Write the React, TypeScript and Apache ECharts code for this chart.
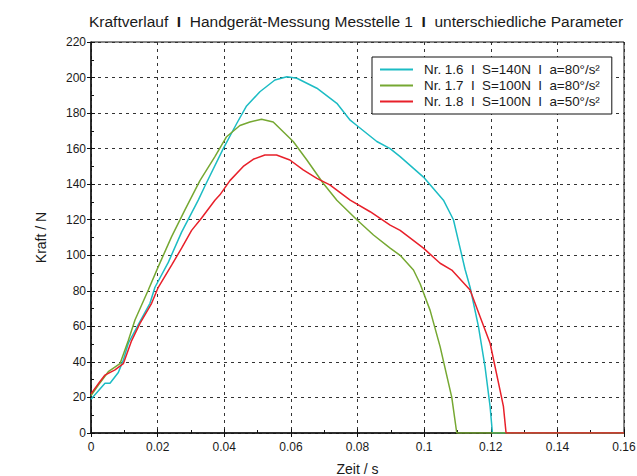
import React, { useEffect, useRef } from "react";
import * as echarts from "echarts";

const seriesNames = [
  "Nr. 1.6  I  S=140N  I  a=80°/s²",
  "Nr. 1.7  I  S=100N  I  a=80°/s²",
  "Nr. 1.8  I  S=100N  I  a=50°/s²",
];
const seriesColors = ["#1cbcc4", "#76a832", "#e8202a"];

const time16 = [0, 0.0042, 0.0057, 0.0082, 0.0097, 0.0112, 0.0142, 0.0177, 0.0192, 0.0232, 0.0272, 0.0322, 0.0342, 0.0397, 0.0437, 0.0467, 0.0507, 0.0552, 0.0588, 0.0618, 0.0678, 0.0738, 0.0778, 0.0798, 0.0858, 0.0898, 0.0928, 0.0998, 0.1058, 0.1088, 0.1108, 0.1123, 0.1138, 0.1163, 0.1183, 0.1198, 0.1205, 0.16];
const force16 = [19, 28, 28, 34, 41, 50.5, 61, 73, 82, 96, 113, 131, 139, 160, 174, 184, 192, 198.6, 200.5, 199.6, 194, 185.5, 176, 173, 164, 160, 155.5, 144, 131, 120, 104, 92, 82, 60, 37, 15, 0, 0];

const time17 = [0, 0.0022, 0.0052, 0.0087, 0.0112, 0.0132, 0.0172, 0.0202, 0.0242, 0.0282, 0.0327, 0.0372, 0.0407, 0.0447, 0.0477, 0.0512, 0.0547, 0.0577, 0.0607, 0.0648, 0.0697, 0.0738, 0.0798, 0.0848, 0.0898, 0.0928, 0.0968, 0.0988, 0.1018, 0.1048, 0.1083, 0.1098, 0.16];
const force17 = [21, 27, 34.5, 39, 52, 63.6, 80.5, 93.6, 110.5, 125.5, 142, 155.5, 166.7, 173, 175, 176.5, 175, 169.5, 164, 153.6, 140.5, 131, 120, 111.4, 104, 100, 91.7, 84, 69, 48.6, 20, 0, 0];

const time18 = [0, 0.0027, 0.0042, 0.0072, 0.0097, 0.0122, 0.0147, 0.0182, 0.0202, 0.0242, 0.0272, 0.0302, 0.0332, 0.0372, 0.0387, 0.0417, 0.0457, 0.0487, 0.0522, 0.0557, 0.0597, 0.0637, 0.0678, 0.0717, 0.0778, 0.0838, 0.0898, 0.0928, 0.0998, 0.1048, 0.1083, 0.1138, 0.1168, 0.1198, 0.1228, 0.1238, 0.1246, 0.16];
const force18 = [22, 29, 32.6, 35.5, 39, 52, 61.7, 73, 82, 94.5, 104, 114, 121, 131, 134, 142, 150, 154, 156.4, 156.4, 153.6, 148, 143.3, 139.6, 131, 124.5, 117, 114, 104, 95.5, 91.7, 80.5, 65.4, 50.5, 24, 15, 0, 0];

const xTicks = [0, 0.02, 0.04, 0.06, 0.08, 0.1, 0.12, 0.14, 0.16];
const yTicks = [0, 20, 40, 60, 80, 100, 120, 140, 160, 180, 200, 220];

const titleText = "Kraftverlauf  {b|I}  Handgerät-Messung Messtelle 1  {b|I}  unterschiedliche Parameter";

const zip = (t: number[], f: number[]) => t.map((v, i) => [v, f[i]]);

export default function App() {
  const ref = useRef<HTMLDivElement>(null);
  useEffect(() => {
    if (!ref.current) return;
    const chart = echarts.init(ref.current, null, { renderer: "svg" });
    const font = "'Liberation Sans', Arial, Helvetica, sans-serif";
    const dataSets = [zip(time16, force16), zip(time17, force17), zip(time18, force18)];
    const tickStyle = { color: "#111", width: 1 };
    chart.setOption({
      animation: false,
      backgroundColor: "#ffffff",
      textStyle: { fontFamily: font },
      title: {
        text: titleText,
        left: 84,
        top: 8,
        textStyle: {
          fontFamily: font,
          fontSize: 15.5,
          fontWeight: "normal",
          color: "#1a1a1a",
          rich: { b: { fontFamily: font, fontSize: 15.5, fontWeight: "bold", color: "#1a1a1a" } },
        },
      },
      legend: {
        orient: "vertical",
        left: 372,
        top: 57,
        width: 239,
        padding: [6, 12, 6, 8],
        itemGap: 3,
        itemWidth: 33,
        itemHeight: 2,
        icon: "rect",
        borderColor: "#111",
        borderWidth: 1,
        backgroundColor: "#ffffff",
        textStyle: { fontFamily: font, fontSize: 13.4, color: "#1a1a1a", padding: [0, 0, 0, 6] },
        data: seriesNames,
      },
      grid: {
        left: 91,
        right: 13,
        top: 42,
        bottom: 43,
        show: true,
        borderColor: "#111",
        borderWidth: 1,
        backgroundColor: "transparent",
        outerBoundsMode: "none",
        containLabel: false,
      },
      xAxis: [
        {
          type: "value",
          min: 0,
          max: 0.16,
          interval: 0.02,
          name: "Zeit / s",
          nameLocation: "middle",
          nameGap: 29,
          nameTextStyle: { fontFamily: font, fontSize: 14, color: "#1a1a1a" },
          axisLine: { show: true, onZero: false, lineStyle: { color: "#111", width: 1.5 } },
          axisTick: { show: true, inside: false, length: 4, lineStyle: tickStyle },
          axisLabel: {
            fontFamily: font,
            fontSize: 12,
            color: "#1a1a1a",
            margin: 8,
            formatter: (v: number) => {
              const m = xTicks.find((t) => Math.abs(t - v) < 1e-9);
              return m === undefined ? "" : String(Number(m.toFixed(2)));
            },
          },
          splitLine: { show: true, lineStyle: { color: "#333", type: [3, 4], width: 1 } },
        },
        {
          type: "value",
          position: "bottom",
          min: 0,
          max: 0.16,
          interval: 0.02,
          axisLine: { show: false, onZero: false },
          axisTick: { show: true, inside: true, length: 4, lineStyle: tickStyle },
          minorTick: { show: true, splitNumber: 2, length: 3, lineStyle: tickStyle },
          axisLabel: { show: false },
          splitLine: { show: false },
        },
      ],
      yAxis: [
        {
          type: "value",
          min: 0,
          max: 220,
          interval: 20,
          name: "Kraft / N",
          nameLocation: "middle",
          nameGap: 43,
          nameRotate: 90,
          nameTextStyle: { fontFamily: font, fontSize: 14, color: "#1a1a1a" },
          axisLine: { show: true, onZero: false, lineStyle: { color: "#111", width: 1.5 } },
          axisTick: { show: true, inside: false, length: 4, lineStyle: tickStyle },
          axisLabel: {
            fontFamily: font,
            fontSize: 12,
            color: "#1a1a1a",
            margin: 5,
            formatter: (v: number) => (yTicks.includes(v) ? String(v) : ""),
          },
          splitLine: { show: true, lineStyle: { color: "#333", type: [3, 4], width: 1 } },
        },
        {
          type: "value",
          position: "left",
          min: 0,
          max: 220,
          interval: 20,
          axisLine: { show: false, onZero: false },
          axisTick: { show: true, inside: true, length: 4, lineStyle: tickStyle },
          minorTick: { show: true, splitNumber: 2, length: 3, lineStyle: tickStyle },
          axisLabel: { show: false },
          splitLine: { show: false },
        },
      ],
      series: seriesNames.map((name, i) => ({
        name,
        type: "line",
        data: dataSets[i],
        showSymbol: false,
        symbol: "none",
        smooth: false,
        lineStyle: { color: seriesColors[i], width: 1.5 },
        itemStyle: { color: seriesColors[i] },
        z: 2 + i,
      })),
    });
    return () => chart.dispose();
  }, []);
  return (
    <div
      ref={ref}
      style={{ position: "fixed", left: 0, top: 0, width: 637, height: 476, overflow: "hidden" }}
    />
  );
}
